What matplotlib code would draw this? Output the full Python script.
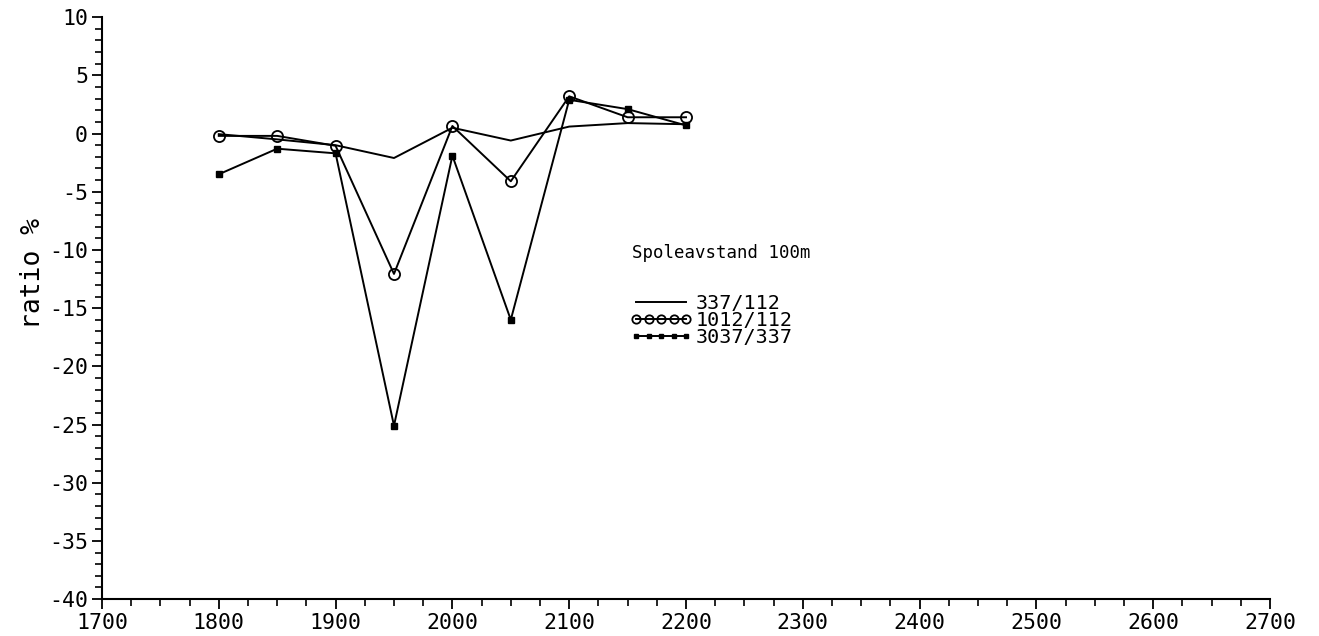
import matplotlib
matplotlib.use("Agg")
import matplotlib.pyplot as plt
from matplotlib.ticker import MultipleLocator

plt.rcParams['font.family'] = ['DejaVu Sans Mono']
plt.rcParams['axes.unicode_minus'] = False

# spacing along the profile (m)
depth = [1800, 1850, 1900, 1950, 2000, 2050, 2100, 2150, 2200]
# ratios in percent
r337_112 = [-0.05, -0.5, -1.0, -2.1, 0.5, -0.6, 0.6, 0.9, 0.8]
r1012_112 = [-0.2, -0.2, -1.05, -12.06, 0.65, -4.1, 3.2, 1.4, 1.4]
r3037_337 = [-3.5, -1.3, -1.7, -25.1, -1.9, -16.0, 2.9, 2.1, 0.7]

labels = ['337/112', '1012/112', '3037/337']
title = 'Spoleavstand 100m'

fig = plt.figure(figsize=(13.19, 6.36), dpi=100)
ax = fig.add_axes([0.0773, 0.058, 0.8856, 0.915])

ax.plot(depth, r337_112, color='black', lw=1.4, label=labels[0])
ax.plot(depth, r1012_112, color='black', lw=1.4, marker='o', ms=8,
        mfc='none', mec='black', mew=1.3, label=labels[1])
ax.plot(depth, r3037_337, color='black', lw=1.4, marker='s', ms=4.5,
        mfc='black', mec='black', label=labels[2])

ax.set_xlim(1700, 2700)
ax.set_ylim(-40, 10)
ax.xaxis.set_major_locator(MultipleLocator(100))
ax.xaxis.set_minor_locator(MultipleLocator(25))
ax.yaxis.set_major_locator(MultipleLocator(5))
ax.yaxis.set_minor_locator(MultipleLocator(1))

for s in ['top', 'right']:
    ax.spines[s].set_visible(False)
for s in ['left', 'bottom']:
    ax.spines[s].set_linewidth(1.5)

ax.tick_params(axis='both', which='major', direction='out', length=7,
               width=1.3, labelsize=15.5, pad=3)
ax.tick_params(axis='both', which='minor', direction='out', length=5, width=1.2)

ax.set_ylabel('ratio %', fontsize=19)
ax.yaxis.set_label_coords(-0.048, 0.56)

ax.text(0.4538, 0.595, title, transform=ax.transAxes, fontsize=12.5,
        va='center', ha='left')

leg = ax.legend(loc='upper left', bbox_to_anchor=(0.452, 0.524),
                frameon=False, numpoints=5, markerscale=0.75,
                handlelength=3.1, handletextpad=0.15, labelspacing=-0.1,
                borderpad=0, borderaxespad=0, fontsize=14.5)

fig.savefig('out.png', dpi=100)
